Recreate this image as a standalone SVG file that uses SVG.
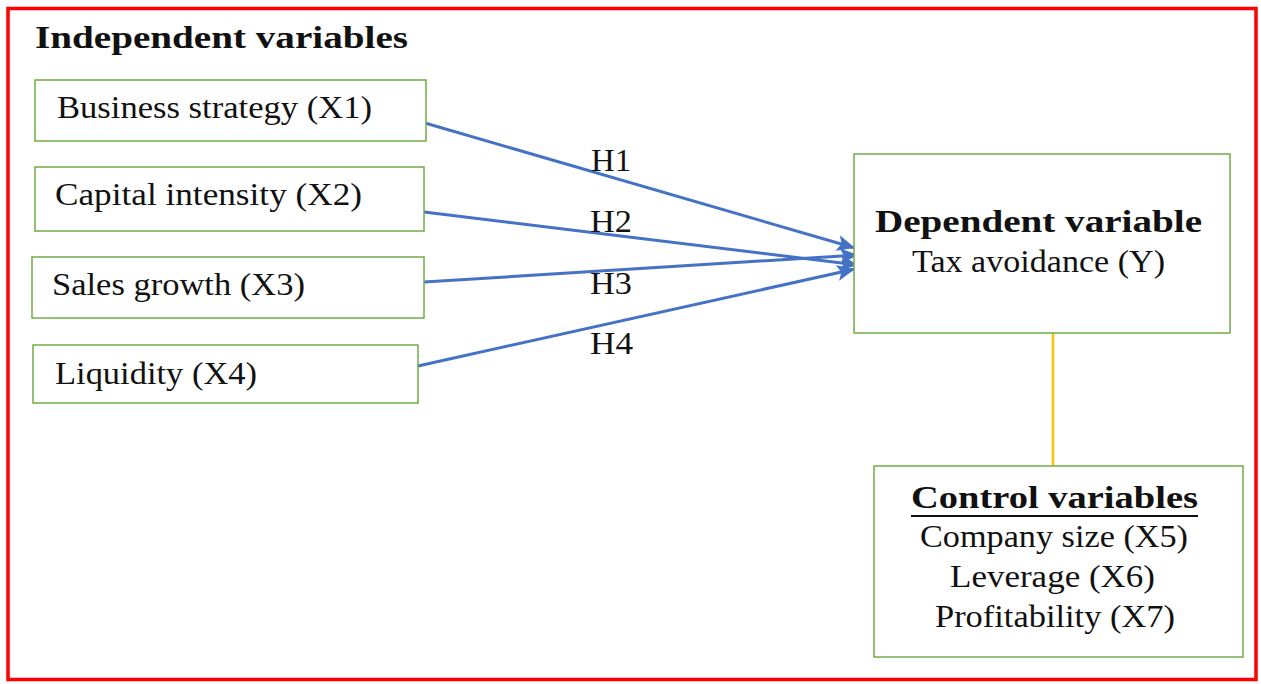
<svg xmlns="http://www.w3.org/2000/svg" width="1261" height="684" viewBox="0 0 1261 684">
<style>
.t{font-family:"Liberation Serif","Times New Roman",serif;font-size:31.5px;fill:#111}
.b{font-weight:bold}
.box{fill:#fff;stroke:#70AD47;stroke-width:1.5}
.arr{stroke:#4472C4;stroke-width:3;fill:none;marker-end:url(#ah)}
</style>
<defs>
<marker id="ah" markerUnits="userSpaceOnUse" markerWidth="20" markerHeight="16" refX="18" refY="8" orient="auto">
<path d="M0,0 L18,8 L0,16 L4,8 Z" fill="#4472C4"/>
</marker>
</defs>
<rect x="0" y="0" width="1261" height="684" fill="#fff"/>
<rect x="8" y="8.5" width="1248" height="671" fill="none" stroke="#FF0000" stroke-width="3.5"/>
<text class="t b" x="35" y="48" textLength="373" lengthAdjust="spacingAndGlyphs">Independent variables</text>
<g id="connectors">
<line class="arr" x1="425" y1="123" x2="855" y2="248"/>
<line class="arr" x1="424" y1="212" x2="858" y2="265"/>
<line class="arr" x1="424" y1="282" x2="858" y2="255"/>
<line class="arr" x1="418" y1="366" x2="855" y2="269"/>
<line x1="1053" y1="333" x2="1053" y2="466" stroke="#FFC000" stroke-width="2.5"/>
<text class="t" x="591" y="171" textLength="40" lengthAdjust="spacingAndGlyphs">H1</text>
<text class="t" x="590" y="232" textLength="42" lengthAdjust="spacingAndGlyphs">H2</text>
<text class="t" x="590" y="294" textLength="42" lengthAdjust="spacingAndGlyphs">H3</text>
<text class="t" x="590" y="354" textLength="43" lengthAdjust="spacingAndGlyphs">H4</text>
</g>
<g id="x1">
<rect class="box" x="35" y="80" width="391" height="61"/>
<text class="t" x="57" y="118" textLength="315" lengthAdjust="spacingAndGlyphs">Business strategy (X1)</text>
</g>
<g id="x2">
<rect class="box" x="35" y="167" width="389" height="64"/>
<text class="t" x="55" y="205" textLength="307" lengthAdjust="spacingAndGlyphs">Capital intensity (X2)</text>
</g>
<g id="x3">
<rect class="box" x="32" y="257" width="392" height="61"/>
<text class="t" x="52" y="295" textLength="253" lengthAdjust="spacingAndGlyphs">Sales growth (X3)</text>
</g>
<g id="x4">
<rect class="box" x="33" y="345" width="385" height="58"/>
<text class="t" x="55" y="384" textLength="202" lengthAdjust="spacingAndGlyphs">Liquidity (X4)</text>
</g>
<g id="y">
<rect class="box" x="854" y="154" width="376" height="179"/>
<text class="t b" x="875" y="232" textLength="327" lengthAdjust="spacingAndGlyphs">Dependent variable</text>
<text class="t" x="912" y="272" textLength="253" lengthAdjust="spacingAndGlyphs">Tax avoidance (Y)</text>
</g>
<g id="control">
<rect class="box" x="874" y="466" width="369" height="191"/>
<text class="t b" x="911" y="508" textLength="287" lengthAdjust="spacingAndGlyphs">Control variables</text>
<line x1="911" y1="516" x2="1198" y2="516" stroke="#111" stroke-width="2"/>
<text class="t" x="920" y="547" textLength="268" lengthAdjust="spacingAndGlyphs">Company size (X5)</text>
<text class="t" x="950" y="587" textLength="205" lengthAdjust="spacingAndGlyphs">Leverage (X6)</text>
<text class="t" x="935" y="627" textLength="240" lengthAdjust="spacingAndGlyphs">Profitability (X7)</text>
</g>
</svg>
